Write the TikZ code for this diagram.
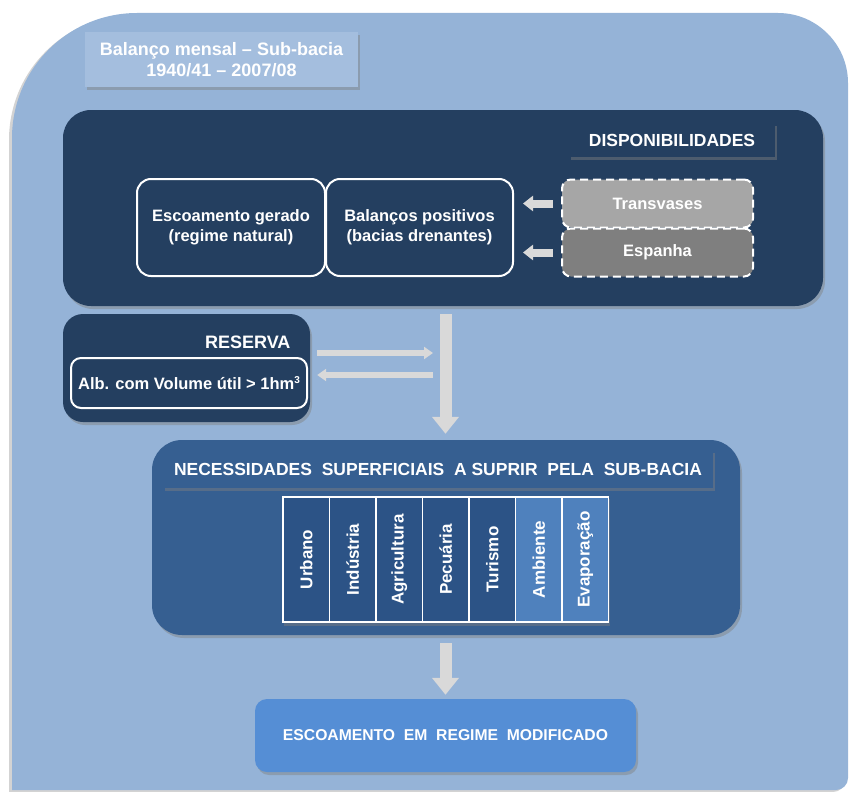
\documentclass[tikz,border=0pt]{standalone}
\usepackage{fontspec}
\setmainfont{Liberation Sans}
\usetikzlibrary{arrows.meta,shadows,positioning}

\definecolor{outerblue}{RGB}{149,179,215}
\definecolor{titleblue}{RGB}{164,190,222}
\definecolor{navy}{RGB}{36,63,96}
\definecolor{midblue}{RGB}{54,95,145}
\definecolor{coldark}{RGB}{44,83,134}
\definecolor{collight}{RGB}{79,129,189}
\definecolor{finalblue}{RGB}{85,142,213}
\definecolor{arrowgray}{RGB}{217,217,217}
\definecolor{transgray}{RGB}{166,166,166}
\definecolor{spaingray}{RGB}{127,127,127}

\tikzset{
  shade/.style={drop shadow={opacity=.45,shadow xshift=2pt,shadow yshift=-3pt}},
  panel/.style={rounded corners=28pt, shade},
  strip/.style={shade, text=white, font=\fontsize{17.5}{20}\selectfont\bfseries, inner sep=0pt},
  whitebox/.style={draw=white, line width=2pt, rounded corners=14pt, fill=navy,
    text=white, font=\fontsize{16.5}{20}\selectfont\bfseries, align=center, inner sep=0pt},
  dashbox/.style={draw=white, line width=2pt, dash pattern=on 8pt off 5pt, rounded corners=9pt,
    text=white, font=\fontsize{16.5}{20}\selectfont\bfseries, inner sep=0pt,
    minimum width=191pt, minimum height=48pt},
  column/.style={draw=white, line width=1.6pt, rotate=90, text=white,
    font=\fontsize{17}{20}\selectfont\bfseries, inner sep=0pt,
    minimum width=125pt, minimum height=46.5pt},
  fatarrow/.style={draw=arrowgray, line width=12pt, -{Triangle[width=26pt,length=17pt]}},
  thinarrow/.style={draw=arrowgray, line width=6pt, -{Triangle[width=12pt,length=9pt]}},
  sidearrow/.style={draw=arrowgray, line width=8pt, -{Triangle[width=15pt,length=10pt]}}
}

\begin{document}
\begin{tikzpicture}[x=1pt,y=-1pt]
\useasboundingbox (0,0) rectangle (854,792);

% outer frame
\fill[outerblue, drop shadow={opacity=.35,shadow xshift=-3pt,shadow yshift=-2pt}]
  (12,790) {[rounded corners=125pt] -- (12,13) -- (430,13)}
  {[rounded corners=70pt] -- (848,13) -- (848,400)}
  {[rounded corners=12pt] -- (848,790) -- (430,790)} -- cycle;

% title
\node[strip, fill=titleblue, minimum width=273pt, minimum height=55pt, align=center,
  font=\fontsize{18}{21}\selectfont\bfseries] (title) at (221.5,59.5)
  {Balanço mensal -- Sub-bacia\\1940/41 -- 2007/08};

% availabilities
\node[panel, fill=navy, minimum width=760pt, minimum height=196pt] (disp) at (443,208) {};
\node[strip, fill=navy, minimum width=206pt, minimum height=34pt] (displabel) at (672,140) {DISPONIBILIDADES};
\node[whitebox, minimum width=188pt, minimum height=97pt] (natural) at (231,227.5)
  {Escoamento gerado\\(regime natural)};
\node[whitebox, minimum width=187pt, minimum height=97pt] (bal) at (419.5,227.5)
  {Balanços positivos\\(bacias drenantes)};
\node[dashbox, fill=transgray] (trans) at (657.5,203.5) {Transvases};
\node[dashbox, fill=spaingray] (spain) at (657.5,252.5) {Espanha};
\draw[sidearrow, shorten <=8pt, shorten >=9pt] (trans.west) -- (trans.west -| bal.east);
\draw[sidearrow, shorten <=8pt, shorten >=9pt] (spain.west) -- (spain.west -| bal.east);

% reserve
\node[panel, fill=navy, rounded corners=20pt, minimum width=247pt, minimum height=108pt] (res) at (186.5,368) {};
\node[text=white, font=\fontsize{18}{20}\selectfont\bfseries, anchor=east] (reslabel) at (294,342) {RESERVA};
\node[whitebox, rounded corners=10pt, minimum width=236pt, minimum height=50pt] (alb) at (189,383)
  {Alb. com Volume útil > 1hm\raisebox{0.75ex}{\fontsize{10}{10}\selectfont 3}};

% needs
\node[panel, fill=midblue, rounded corners=30pt, minimum width=588pt, minimum height=195pt] (need) at (446,537.5) {};
\node[strip, fill=midblue, minimum width=550pt, minimum height=38pt] (needlabel) at (438,469)
  {NECESSIDADES\ \ SUPERFICIAIS\ \ A\ SUPRIR\ \ PELA\ \ SUB-BACIA};
\fill[white, shade] (282,496) rectangle (608,623);
\foreach \name/\col [count=\i] in {Urbano/coldark, Indústria/coldark, Agricultura/coldark,
    Pecuária/coldark, Turismo/coldark, Ambiente/collight, Evaporação/collight}
  \node[column, fill=\col] (col\i) at (283+46.5*\i-23.25,559.5) {\name};

% result
\node[panel, fill=finalblue, rounded corners=12pt, minimum width=381pt, minimum height=73pt,
  text=white, font=\fontsize{15.7}{18}\selectfont\bfseries] (final) at (445.5,735.5)
  {ESCOAMENTO\ \ EM\ \ REGIME\ \ MODIFICADO};

% flows
\draw[fatarrow, shorten <=8pt, shorten >=6pt] (disp.south -| final.north) -- (need.north -| final.north);
\draw[fatarrow, shorten <=8pt, shorten >=4pt] (need.south -| final.north) -- (final.north);
\coordinate (junc) at (433,368);
\draw[thinarrow, shorten <=7pt] ([yshift=15pt]res.east) -- ([yshift=15pt]junc);
\draw[thinarrow, shorten >=7pt] ([yshift=-7pt]junc) -- ([yshift=-7pt]res.east);
\end{tikzpicture}
\end{document}
